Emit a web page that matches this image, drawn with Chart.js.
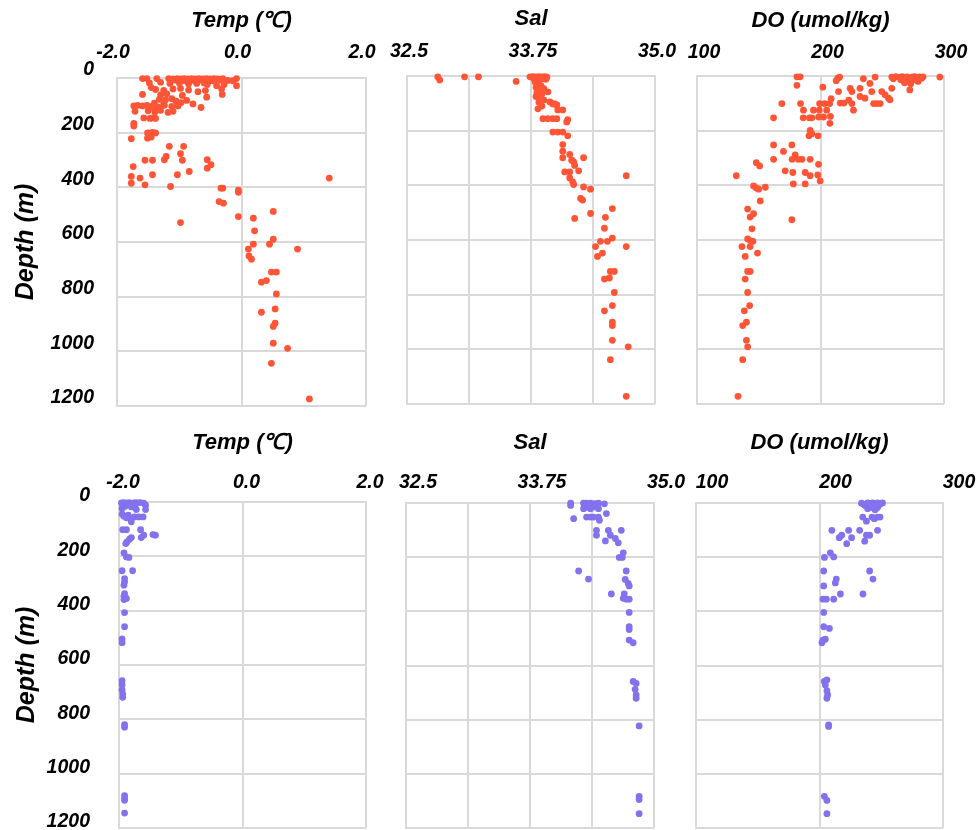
<!DOCTYPE html>
<html>
<head>
<meta charset="utf-8">
<script src="https://cdn.jsdelivr.net/npm/chart.js@4"></script>
<style>
  html, body { margin: 0; padding: 0; background: #fff; overflow: hidden; width: 978px; height: 830px; position: relative; }
  canvas { position: absolute; }
</style>
</head>
<body>
<script>
// Tick values and labels
const depthValues = [0, 200, 400, 600, 800, 1000, 1200];
const depthTicks = ['0', '200', '400', '600', '800', '1000', '1200'];
const tempTicks = ['-2.0', '0.0', '2.0'];
const salTicks = ['32.5', '', '33.75', '', '35.0'];
const doTicks = ['100', '200', '300'];

// Survey 1 profiles: [value, depth m]
const tempSurvey1 = [
  [-1.59,2],[-1.52,2],[-1.36,2],[-1.17,2],[-1.10,3],[-1.03,2],[-0.97,3],[-0.92,2],[-0.86,3],[-0.80,2],[-0.74,3],[-0.68,2],[-0.62,3],[-0.56,2],[-0.50,3],[-0.44,2],[-0.38,3],[-0.30,2],[-0.08,2],
  [-1.14,10],[-1.05,8],[-0.95,10],[-0.88,12],[-0.78,9],[-0.70,11],[-0.60,8],[-0.52,12],[-0.45,10],[-0.36,8],[-0.22,9],[-0.14,10],
  [-1.48,18],[-1.30,16],[-1.15,20],[-1.00,18],[-0.85,22],[-0.72,20],[-0.60,18],[-0.55,24],[-0.40,28],[-0.28,24],[-0.08,28],
  [-1.45,35],[-1.38,42],[-1.25,45],[-1.10,40],[-0.98,38],[-0.85,44],[-0.70,50],[-0.58,46],[-0.32,40],
  [-1.59,60],[-1.30,62],[-1.20,58],[-0.95,64],[-0.56,70],[-0.31,60],
  [-1.32,78],[-1.22,80],[-1.12,76],[-1.05,85],[-0.97,90],[-0.88,82],[-0.78,95],[-1.40,92],[-1.25,95],
  [-1.73,102],[-1.67,100],[-1.59,102],[-1.52,100],[-1.44,104],[-1.34,106],[-1.24,100],[-1.12,104],[-1.02,102],[-0.65,108],
  [-1.71,122],[-1.50,120],[-1.39,124],[-1.18,126],[-1.10,122],[-1.40,112],[-1.30,118],
  [-1.57,146],[-1.47,148],[-1.43,146],[-1.38,148],[-1.73,166],[-1.73,176],
  [-1.51,201],[-1.43,199],[-1.38,201],[-1.51,220],[-1.77,222],[-1.45,216],
  [-1.16,250],[-0.93,250],[-0.98,277],[-1.21,287],[-1.24,299],
  [-1.55,301],[-1.43,301],[-0.95,301],[-0.55,299],[-0.49,317],[-0.55,330],
  [-1.74,324],[-0.84,342],[-1.43,354],[-1.03,354],[-1.77,360],[-1.63,366],[-1.77,385],[-1.55,391],[-1.14,397],[1.41,366],
  [-0.33,403],[-0.30,403],[-0.05,410],[-0.05,418],[-0.36,452],[-0.29,458],[-0.05,507],[-0.98,529],
  [0.51,488],[0.19,513],[0.21,559],[0.51,590],[0.19,608],[0.45,608],[0.90,626],[0.11,626],[0.12,651],[0.16,663],
  [0.48,710],[0.56,710],[0.32,747],[0.40,741],[0.56,790],[0.54,845],[0.32,857],[0.54,897],[0.51,909],[0.51,970],[0.74,989],[0.48,1044],[1.09,1174]
];

const salSurvey1 = [
  [32.81,3],[32.83,15],[33.08,3],[33.22,3],[33.60,20],[33.74,3],
  [33.77,2],[33.80,3],[33.83,2],[33.86,3],[33.89,2],[33.91,4],[33.78,10],[33.82,12],[33.86,10],[33.90,12],
  [33.79,22],[33.82,28],[33.85,35],[33.80,42],[33.84,50],[33.88,46],[33.81,60],[33.86,66],[33.92,58],[33.80,75],[33.84,82],[33.88,88],
  [33.83,96],[33.94,95],[33.97,102],[33.99,102],[34.01,106],[33.86,110],[33.82,120],[34.02,124],[34.07,124],
  [33.87,156],[33.92,156],[33.97,156],[34.01,156],[34.12,160],[34.11,168],
  [33.97,205],[34.02,205],[34.07,205],[34.12,219],
  [34.07,251],[34.07,275],[34.14,287],[34.28,299],[34.07,299],[34.16,308],[34.18,314],[34.19,327],[34.23,347],[34.09,351],[34.14,351],
  [34.14,373],[34.17,387],[34.18,397],[34.71,365],
  [34.28,406],[34.35,414],[34.25,448],[34.27,454],[34.57,485],[34.35,503],[34.50,517],[34.19,521],[34.49,557],
  [34.57,593],[34.52,605],[34.45,605],[34.40,624],[34.71,624],[34.47,648],[34.42,660],
  [34.55,715],[34.59,715],[34.54,739],[34.49,743],[34.59,792],[34.57,840],[34.49,859],[34.57,901],[34.57,913],[34.57,967],[34.73,991],[34.55,1038],[34.71,1172]
];

const doSurvey1 = [
  [180.9,3],[183.5,3],[180.9,34],[201.9,41],[212.7,17],[215.5,4],[214.0,8],
  [168.7,101],[162.0,153],[183.8,101],[186.2,125],[194.3,125],[186.0,153],[191.0,153],[193.0,153],[198.5,150],[202.5,150],[208.0,148],
  [199.0,125],[205.0,125],[199.3,101],[203.3,101],[207.4,101],[208.6,83],[207.6,173],
  [214.6,57],[216.0,99],[218.9,99],[222.9,88],[224.0,45],[225.4,57],[225.4,101],[226.7,125],[232.0,45],[232.0,75],[234.7,10],[240.0,27],
  [236.0,81],[241.5,57],[243.0,101],[245.6,101],[248.3,101],[244.2,4],[249.6,57],[252.3,69],[255.0,81],[256.3,87],[257.7,45],[257.7,4],[259.0,10],
  [261,2],[264,5],[266,2],[268,8],[270,3],[272,12],[274,4],[276,2],[278,6],[280,3],[282,8],[265,14],[270,18],[275,15],[279,20],[268,25],
  [273,28],[277,10],[283,3],[272.3,51],[296.6,4],
  [191.6,199],[193.0,211],[190.7,219],[198.0,219],
  [162.0,252],[176.8,252],[170.0,276],[179.5,289],[182.0,305],[185.0,305],[177.0,305],[191.6,305],[162.0,305],[148.0,317],[150.7,329],[198.4,323],
  [171.4,347],[177.6,353],[187.6,353],[191.6,365],[197.8,362],[199.7,384],[131.8,365],[178.0,395],[187.6,395],
  [145.8,402],[148.0,410],[149.9,414],[155.3,407],[151.2,457],[141.0,487],[145.8,504],[143.0,516],[176.8,526],[144.5,559],
  [141.0,596],[143.0,602],[145.3,605],[143.0,624],[136.4,624],[149.0,648],[139.0,660],
  [141.0,715],[143.0,715],[139.0,743],[141.0,792],[142.6,840],[138.3,859],[140.0,901],[137.0,913],[140.0,967],[141.0,991],[137.0,1038],[133.2,1172]
];

// Survey 2 profiles: [value, depth m]
const tempSurvey2 = [
  [-1.96,3],[-1.92,2],[-1.88,4],[-1.84,2],[-1.80,5],[-1.76,3],[-1.72,2],[-1.66,2],[-1.60,4],[-1.57,12],[-1.57,28],
  [-1.94,12],[-1.90,16],[-1.85,10],[-1.80,18],[-1.74,14],[-1.72,28],[-1.95,24],
  [-1.95,45],[-1.92,52],[-1.88,58],[-1.85,48],[-1.82,60],[-1.75,55],[-1.68,55],[-1.61,55],[-1.80,73],
  [-1.94,102],[-1.88,102],[-1.65,102],[-1.64,131],[-1.60,122],[-1.45,120],[-1.41,122],[-1.80,131],[-1.83,137],[-1.89,153],[-1.87,147],
  [-1.92,187],[-1.88,202],[-1.84,204],[-1.95,253],[-1.78,253],[-1.91,282],[-1.91,294],[-1.92,306],
  [-1.91,337],[-1.92,347],[-1.92,359],[-1.88,355],[-1.91,407],[-1.91,459],[-1.95,504],[-1.95,518],
  [-1.95,658],[-1.95,673],[-1.95,692],[-1.94,707],[-1.94,719],[-1.91,820],[-1.91,829],[-1.91,1081],[-1.91,1093],[-1.91,1098],[-1.91,1145]
];

const salSurvey2 = [
  [34.16,1],[34.16,9],[34.29,1],[34.32,1],[34.36,1],[34.40,2],[34.44,1],[34.50,3],[34.29,21],[34.32,16],[34.36,21],[34.40,14],[34.44,21],
  [34.52,39],[34.19,58],[34.32,52],[34.36,52],[34.39,52],[34.44,52],[34.45,64],
  [34.42,101],[34.42,119],[34.54,101],[34.67,101],[34.56,119],[34.51,140],[34.61,131],[34.64,147],[34.69,184],[34.65,201],[34.68,201],
  [34.24,251],[34.34,281],[34.72,251],[34.71,282],[34.74,297],[34.75,306],[34.57,336],[34.70,336],[34.69,352],[34.72,355],[34.75,355],
  [34.75,404],[34.75,457],[34.75,467],[34.75,506],[34.79,516],[34.79,659],[34.82,666],[34.81,688],[34.82,709],[34.82,721],
  [34.85,823],[34.85,1083],[34.85,1095],[34.85,1147]
];

const doSurvey2 = [
  [234,1],[237,9],[239,0],[241,17],[243,0],[245,9],[247,0],[239,21],[243,12],[247,17],[249,5],[251,0],[236,5],[245,25],
  [235,52],[238,67],[242.5,52],[244.4,58],[247,52],[249,52],
  [210,101],[223.6,101],[232.5,101],[247,101],[218,119],[216,128],[226,128],[238,119],[240.6,119],[222,150],[236.6,141],
  [208.8,184],[211.5,199],[204,201],[203.4,251],[240.6,251],[243.3,281],[213.6,281],[212.8,295],[203.4,306],[216.9,336],[235.2,336],
  [202.8,355],[205.5,355],[211.5,355],
  [203.4,404],[203.4,457],[208,463],[202.8,506],[204.7,503],[202,516],
  [203.9,659],[206,653],[204.7,672],[206,693],[206.6,709],[206,721],[207.4,819],[207.4,825],[203.9,1083],[206,1098],[206,1147]
];

const RED = '#FF5536';
const PURPLE = '#8272EE';
const GRID = '#D9D9D9';
const FONT = '"Liberation Sans", Arial, sans-serif';

function makePanel(o) {
  const cl = o.showY ? 0 : o.plot.l - 50;
  const ct = o.plot.t - 78;
  const padR = 50, padB = 50;
  const w = o.plot.r - cl + padR;
  const h = o.plot.b - ct + padB;
  const cv = document.createElement('canvas');
  cv.width = w; cv.height = h;
  cv.style.left = cl + 'px'; cv.style.top = ct + 'px';
  cv.style.width = w + 'px'; cv.style.height = h + 'px';
  document.body.appendChild(cv);

  const tickFont = { family: FONT, size: 19.5, weight: 'bold', style: 'italic' };

  new Chart(cv, {
    type: 'scatter',
    data: {
      datasets: [{
        data: o.data.map(([v, d]) => ({ x: v, y: d })),
        backgroundColor: o.color,
        borderWidth: 0,
        pointRadius: 3.4,
        pointHoverRadius: 3.4,
        clip: false
      }]
    },
    options: {
      responsive: false,
      animation: false,
      events: [],
      layout: { padding: { left: 0, top: 0, right: padR, bottom: padB } },
      plugins: { legend: { display: false }, tooltip: { enabled: false } },
      scales: {
        x: {
          type: 'linear',
          position: 'top',
          min: o.xMin, max: o.xMax,
          afterFit: s => { s.height = o.plot.t - ct; },
          ticks: {
            stepSize: o.xStep, autoSkip: false, maxRotation: 0, color: '#000', font: tickFont,
            padding: o.plot.t - o.tickY - 11.7,
            labelOffset: o.xLabelOffset,
            callback: (v, i) => o.xLabels[i]
          },
          grid: { color: GRID, lineWidth: 2, drawTicks: false },
          border: { display: true, color: GRID, width: 2 },
          title: {
            display: true, text: o.title, color: '#000',
            font: { family: FONT, size: 22, weight: 'bold', style: 'italic' },
            padding: { top: o.titleY - ct - 13.2, bottom: 0 }
          }
        },
        y: {
          type: 'linear',
          reverse: true,
          min: 0, max: 1200,
          afterFit: s => { s.width = o.plot.l - cl; },
          ticks: {
            display: o.showY, stepSize: 200, autoSkip: false, color: '#000', font: tickFont,
            padding: o.yTickPad || 0,
            labelOffset: o.yLabelOffset || 0,
            callback: v => depthTicks[depthValues.indexOf(v)]
          },
          grid: { color: GRID, lineWidth: 2, drawTicks: false },
          border: { display: true, color: GRID, width: 2 },
          title: {
            display: o.showY, text: 'Depth (m)', color: '#000',
            font: { family: FONT, size: 25, weight: 'bold', style: 'italic' },
            padding: { top: (o.yTitleX || 0) - cl - 15, bottom: 0 }
          }
        }
      }
    }
  });
}

const tempAxis = { xMin: -2, xMax: 2, xStep: 2, xLabels: tempTicks, title: 'Temp (℃)' };
const salAxis = { xMin: 32.5, xMax: 35, xStep: 0.625, xLabels: salTicks, title: 'Sal' };
const doAxis = { xMin: 100, xMax: 300, xStep: 100, xLabels: doTicks, title: 'DO (umol/kg)' };

// Upper row
makePanel(Object.assign({}, tempAxis, {
  plot: { l: 117, t: 78, r: 366, b: 406 }, showY: true, data: tempSurvey1, color: RED,
  titleY: 21, tickY: 53, xLabelOffset: -4, yTickPad: 23, yLabelOffset: -8, yTitleX: 26
}));
makePanel(Object.assign({}, salAxis, {
  plot: { l: 407, t: 76, r: 655, b: 404 }, showY: false, data: salSurvey1, color: RED,
  titleY: 19, tickY: 52, xLabelOffset: 2
}));
makePanel(Object.assign({}, doAxis, {
  plot: { l: 697, t: 76, r: 944, b: 404 }, showY: false, data: doSurvey1, color: RED,
  titleY: 21, tickY: 53, xLabelOffset: 7
}));

// Lower row
makePanel(Object.assign({}, tempAxis, {
  plot: { l: 119, t: 502, r: 366, b: 828 }, showY: true, data: tempSurvey2, color: PURPLE,
  titleY: 443, tickY: 483, xLabelOffset: 4, yTickPad: 29, yLabelOffset: -6, yTitleX: 27
}));
makePanel(Object.assign({}, salAxis, {
  plot: { l: 406, t: 503, r: 654, b: 828 }, showY: false, data: salSurvey2, color: PURPLE,
  titleY: 443, tickY: 483, xLabelOffset: 12
}));
makePanel(Object.assign({}, doAxis, {
  plot: { l: 696, t: 503, r: 943, b: 828 }, showY: false, data: doSurvey2, color: PURPLE,
  titleY: 443, tickY: 483, xLabelOffset: 16
}));
</script>
</body>
</html>
